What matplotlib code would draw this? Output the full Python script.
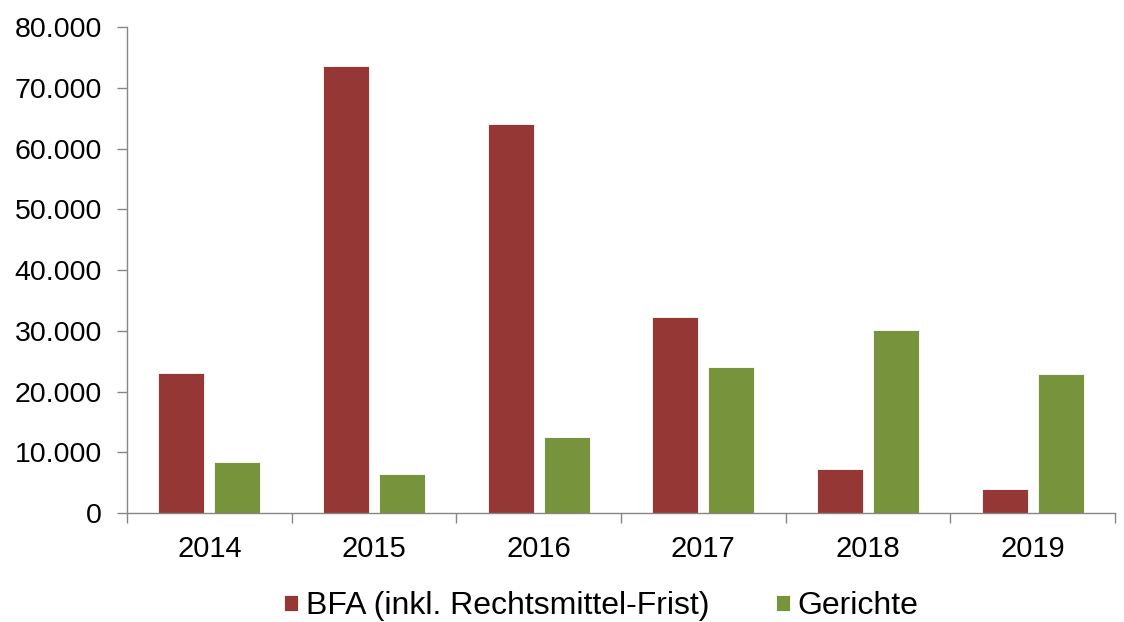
import numpy as np
import matplotlib.pyplot as plt
from matplotlib.ticker import FuncFormatter

plt.rcParams['font.family'] = ['Liberation Sans', 'DejaVu Sans']

# Data
years = ['2014', '2015', '2016', '2017', '2018', '2019']
bfa = [23050, 73550, 64000, 32250, 7250, 3950]
gerichte = [8400, 6400, 12500, 24050, 30150, 22900]

red = '#953735'
green = '#77933C'

fig = plt.figure(figsize=(11.24, 6.22), dpi=100)
ax = fig.add_axes([0.113, 0.175, 0.879, 0.7816])

x = np.arange(len(years))
w = 0.28
ax.bar(x - 0.17, bfa, w, color=red, edgecolor='white', linewidth=0.6,
       label='BFA (inkl. Rechtsmittel-Frist)')
ax.bar(x + 0.17, gerichte, w, color=green, edgecolor='white', linewidth=0.6,
       label='Gerichte')

# Axes styling
ax.set_xlim(-0.5, len(years) - 0.5)
ax.set_ylim(0, 80000)
ax.set_yticks(np.arange(0, 80001, 10000))
ax.yaxis.set_major_formatter(FuncFormatter(lambda v, p: f'{int(v):,}'.replace(',', '.')))
ax.set_xticks(np.arange(-0.5, len(years), 1.0))
ax.set_xticklabels([])
ax.set_xticks(x, minor=True)
ax.set_xticklabels(years, minor=True)
ax.tick_params(axis='x', which='minor', length=0, pad=16, labelsize=21)
ax.tick_params(axis='x', which='major', length=7, width=1, color='#868686', direction='out')
ax.tick_params(axis='y', length=7, width=1, color='#868686', labelsize=20.5, pad=11)
for s in ['top', 'right']:
    ax.spines[s].set_visible(False)
for s in ['left', 'bottom']:
    ax.spines[s].set_color('#868686')
    ax.spines[s].set_linewidth(1)

fig.legend(loc='lower center', bbox_to_anchor=(0.535, -0.045), ncol=2, frameon=False,
           fontsize=23, handlelength=0.42, handleheight=0.42, handletextpad=0.25,
           columnspacing=2.1)

plt.savefig('out.png', dpi=100)
